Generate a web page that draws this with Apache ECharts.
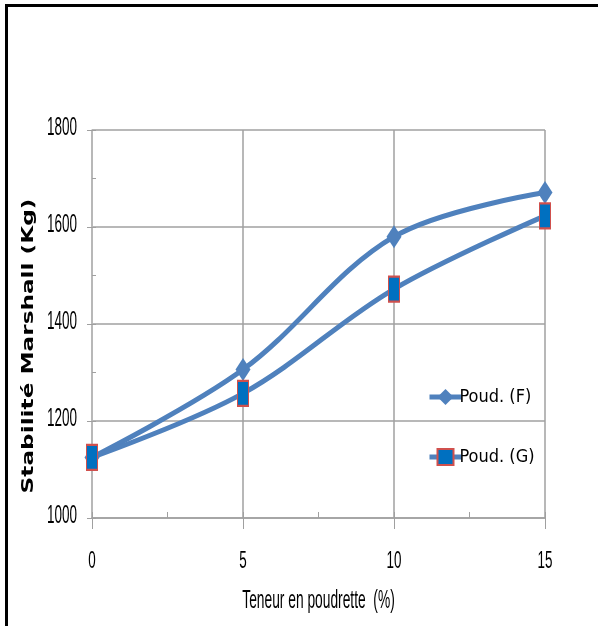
<!DOCTYPE html>
<html>
<head>
<meta charset="utf-8">
<script src="https://cdn.jsdelivr.net/npm/echarts@6/dist/echarts.min.js"></script>
<style>
  html, body { margin: 0; padding: 0; background: #fff; }
  #chart { width: 598px; height: 626px; }
</style>
</head>
<body>
<div id="chart"></div>
<script>
const xValues = [0, 5, 10, 15];
const seriesNames = ['Poud. (F)', 'Poud. (G)'];
const valuesF = [1125, 1306, 1580, 1671];
const valuesG = [1125, 1257, 1472, 1623];
const yTicks = [1000, 1200, 1400, 1600, 1800];
const xTicks = [0, 5, 10, 15];
const xTitle = 'Teneur en poudrette  (%)';
const yTitle = 'Stabilité Marshall (Kg)';

const cond = '"DejaVu Sans Condensed", "Liberation Sans", sans-serif';
const lineBlue = '#4F81BD';
const gridGrey = '#a0a0a0';

const chart = echarts.init(document.getElementById('chart'));
chart.setOption({
  animation: false,
  backgroundColor: '#fff',
  grid: { left: 92, right: 53, top: 130, bottom: 108 },
  xAxis: [
    {
      type: 'value', min: xTicks[0], max: xTicks[xTicks.length - 1], interval: 5,
      axisLine: { show: true, lineStyle: { color: gridGrey, width: 1.5 } },
      axisTick: { show: true, length: 11, lineStyle: { color: gridGrey } },
      axisLabel: { show: false },
      splitLine: { show: true, lineStyle: { color: gridGrey, width: 1.5 } }
    },
    {
      type: 'value', min: 0, max: 15, interval: 2.5, position: 'bottom',
      axisLine: { show: false },
      axisTick: { show: true, inside: true, length: 6, lineStyle: { color: gridGrey } },
      axisLabel: { show: false },
      splitLine: { show: false }
    }
  ],
  yAxis: [
    {
      type: 'value', min: yTicks[0], max: yTicks[yTicks.length - 1], interval: 200,
      axisLine: { show: true, lineStyle: { color: '#b8b8b8', width: 1.5 } },
      axisTick: { show: true, length: 5, lineStyle: { color: gridGrey } },
      axisLabel: { show: false },
      splitLine: { show: true, lineStyle: { color: gridGrey, width: 1.5 } }
    },
    {
      type: 'value', min: 1000, max: 1800, interval: 100, position: 'left',
      axisLine: { show: false },
      axisTick: { show: true, inside: true, length: 4, lineStyle: { color: gridGrey } },
      axisLabel: { show: false },
      splitLine: { show: false }
    }
  ],
  legend: {
    orient: 'vertical', left: 422, top: 383, itemGap: 42,
    itemWidth: 32, itemHeight: 20,
    lineStyle: { width: 5 },
    textStyle: { fontFamily: cond, fontSize: 18, color: '#000', padding: [0, 0, 0, -7] },
    data: seriesNames
  },
  series: [
    {
      name: seriesNames[0], type: 'line', smooth: 0.35,
      data: xValues.map((x, i) => [x, valuesF[i]]),
      symbol: 'diamond', symbolSize: [15, 23],
      lineStyle: { color: lineBlue, width: 5 },
      itemStyle: { color: lineBlue },
      z: 3
    },
    {
      name: seriesNames[1], type: 'line', smooth: 0.35,
      data: xValues.map((x, i) => [x, valuesG[i]]),
      symbol: 'rect', symbolSize: [11, 25],
      lineStyle: { color: lineBlue, width: 5 },
      itemStyle: { color: '#0070C0', borderColor: '#D0504D', borderWidth: 1.5 },
      z: 4
    }
  ]
});

// Tall, narrow text (as in the reference) drawn as real text, positioned via the axes.
const graphics = [
  { type: 'rect', shape: { x: 5, y: 4, width: 593, height: 3 }, style: { fill: '#000' } },
  { type: 'rect', shape: { x: 5, y: 4, width: 3, height: 622 }, style: { fill: '#000' } }
];
yTicks.forEach(v => {
  const p = chart.convertToPixel({ gridIndex: 0 }, [xTicks[0], v]);
  graphics.push({
    type: 'text', x: p[0] - 15, y: p[1] - 2, scaleX: 0.52,
    style: { text: String(v), font: '26px "Liberation Sans", sans-serif', fill: '#000', align: 'right', verticalAlign: 'middle' }
  });
});
xTicks.forEach(v => {
  const p = chart.convertToPixel({ gridIndex: 0 }, [v, yTicks[0]]);
  graphics.push({
    type: 'text', x: p[0], y: p[1] + 43, scaleX: 0.56,
    style: { text: String(v), font: '24px "Liberation Sans", sans-serif', fill: '#000', align: 'center', verticalAlign: 'middle' }
  });
});
const xMid = chart.convertToPixel({ gridIndex: 0 }, [7.5, yTicks[0]]);
graphics.push({
  type: 'text', x: xMid[0], y: xMid[1] + 83, scaleX: 0.53,
  style: { text: xTitle, font: '26px "Liberation Sans", sans-serif', fill: '#000', align: 'center', verticalAlign: 'middle' }
});
graphics.push({
  type: 'text', x: 29, y: 346, rotation: Math.PI / 2, scaleX: 1.45,
  style: { text: yTitle, font: 'bold 16px "DejaVu Sans", sans-serif', fill: '#000', align: 'center', verticalAlign: 'middle' }
});
chart.setOption({ graphic: graphics });
</script>
</body>
</html>
